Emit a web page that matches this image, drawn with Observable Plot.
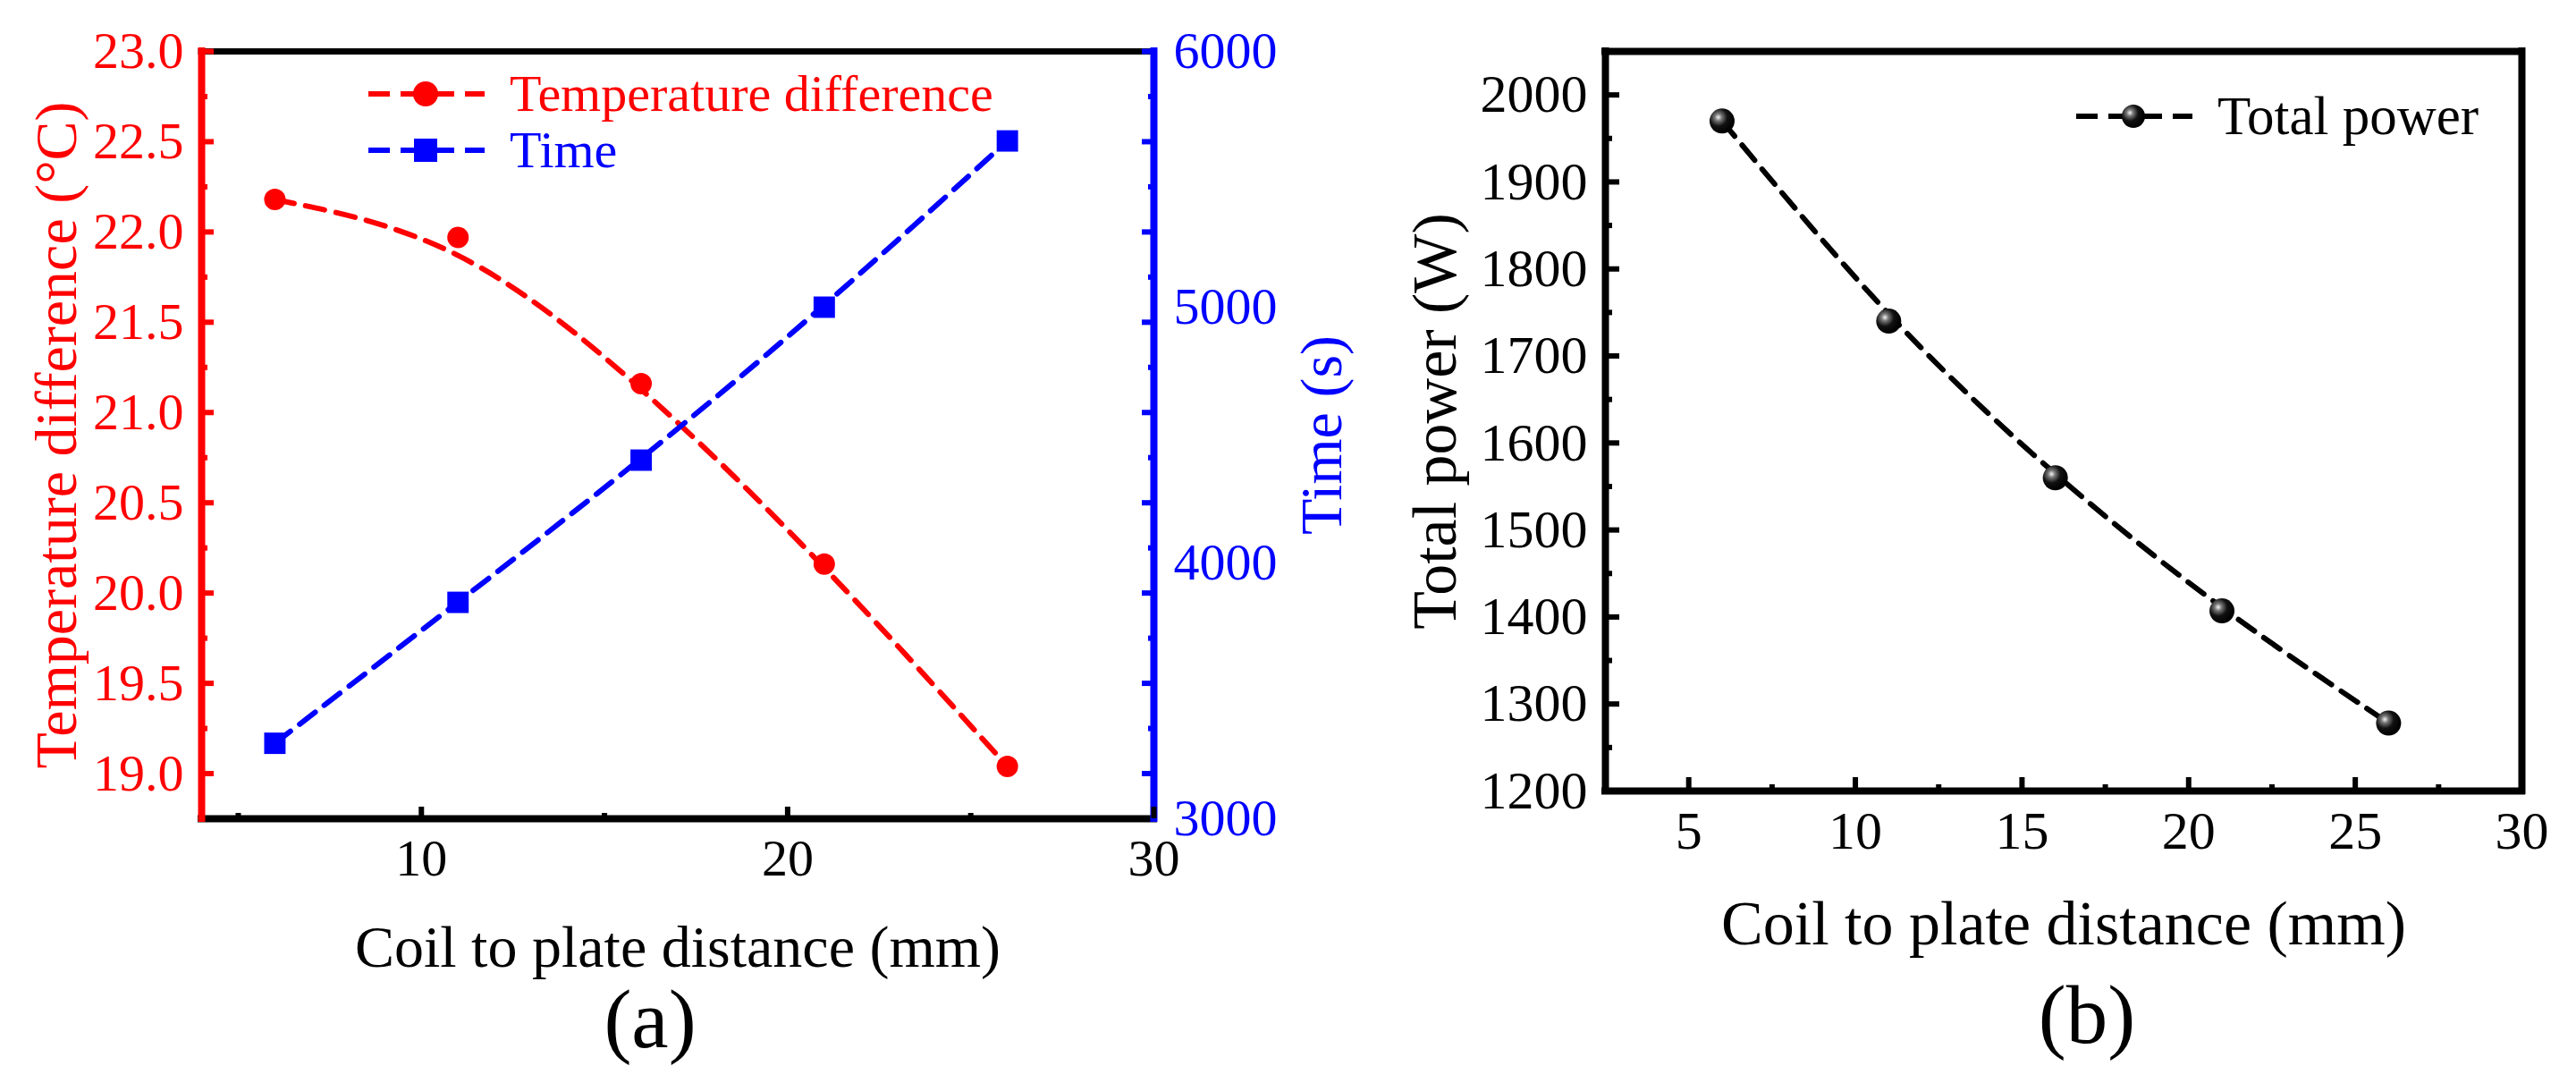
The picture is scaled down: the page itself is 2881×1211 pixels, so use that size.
<!DOCTYPE html>
<html>
<head>
<meta charset="utf-8">
<script src="https://cdn.jsdelivr.net/npm/d3@7"></script>
<script src="https://cdn.jsdelivr.net/npm/@observablehq/plot@0.6"></script>
<style>
  body { margin: 0; background: #fff; }
  #fig { position: relative; width: 2881px; height: 1211px; background: #fff; }
  #fig svg { position: absolute; top: 0; overflow: visible; }
</style>
</head>
<body>
<div id="fig"></div>
<script>
// data
const distance = [6, 11, 16, 21, 26];
const tempDiff = [22.18, 21.97, 21.16, 20.16, 19.04];   // °C
const timeS = [3295, 3846, 4402, 5000, 5650];            // s
const totalPower = [1970, 1740, 1560, 1407, 1278];       // W

// tick labels
const tempTicks = [19.0, 19.5, 20.0, 20.5, 21.0, 21.5, 22.0, 22.5, 23.0];
const tempMinor = [19.25, 19.75, 20.25, 20.75, 21.25, 21.75, 22.25, 22.75];
const timeTicks = [3000, 4000, 5000, 6000];
const distTicksA = [10, 20, 30];
const distMinorA = [5, 15, 25];
const powerTicks = [1200, 1300, 1400, 1500, 1600, 1700, 1800, 1900, 2000];
const powerMinor = [1250, 1350, 1450, 1550, 1650, 1750, 1850, 1950];
const distTicksB = [5, 10, 15, 20, 25, 30];
const distMinorB = [7.5, 12.5, 17.5, 22.5, 27.5];

const RED = "#ff0000", BLUE = "#0000ff";
const font = "'Liberation Serif', 'Times New Roman', serif";

const rowsA = distance.map((d, i) => ({dist: d, temp: tempDiff[i], time: timeS[i]}));
const rowsB = distance.map((d, i) => ({dist: d, power: totalPower[i]}));

// time axis is drawn on the temperature scale
const toTemp = d3.scaleLinear().domain([3000, 6000]).range([18.75, 23]);

// Origin-style B-spline connection
const dash = {strokeWidth: 6, strokeDasharray: "22,13", curve: "basis"};

const chartA = Plot.plot({
  width: 1480, height: 1211,
  marginLeft: 225, marginRight: 190, marginTop: 57, marginBottom: 296,
  style: {fontFamily: font, fontSize: "58px", background: "transparent"},
  x: {domain: [4, 30]},
  y: {domain: [18.75, 23]},
  marks: [
    Plot.ruleY([23], {stroke: "black", strokeWidth: 7, strokeLinecap: "square"}),
    Plot.ruleY([18.75], {stroke: "black", strokeWidth: 8, strokeLinecap: "square"}),
    Plot.ruleX([4], {stroke: RED, strokeWidth: 8, strokeLinecap: "square"}),
    Plot.ruleX([30], {stroke: BLUE, strokeWidth: 8, strokeLinecap: "square"}),
    // left axis (red)
    Plot.axisY(tempTicks, {anchor: "left", color: RED, tickSize: -14, strokeWidth: 6, tickPadding: 34,
      tickFormat: d3.format(".1f"), label: null, fontSize: 58}),
    Plot.axisY(tempMinor, {anchor: "left", color: RED, tickSize: -7, strokeWidth: 6, tickFormat: () => "", label: null}),
    // right axis (blue)
    Plot.axisY(tempTicks, {anchor: "right", color: BLUE, tickSize: -14, strokeWidth: 6, tickFormat: () => "", label: null}),
    Plot.axisY(tempMinor, {anchor: "right", color: BLUE, tickSize: -7, strokeWidth: 6, tickFormat: () => "", label: null}),
    Plot.axisY(timeTicks.map(toTemp), {anchor: "right", color: BLUE, tickSize: 0, tickPadding: 22,
      tickFormat: d => String(Math.round(toTemp.invert(d))), label: null, fontSize: 58}),
    // bottom axis
    Plot.axisX(distTicksA, {anchor: "bottom", color: "black", tickSize: -13, strokeWidth: 6, tickPadding: 35,
      tickFormat: d => String(d), label: null, fontSize: 58}),
    Plot.axisX(distMinorA, {anchor: "bottom", color: "black", tickSize: -6, strokeWidth: 6, tickFormat: () => "", label: null}),
    // series
    Plot.line(rowsA, {x: "dist", y: "temp", stroke: RED, ...dash}),
    Plot.line(rowsA, {x: "dist", y: d => toTemp(d.time), stroke: BLUE, ...dash}),
    Plot.dot(rowsA, {x: "dist", y: "temp", r: 12, fill: RED}),
    Plot.dot(rowsA, {x: "dist", y: d => toTemp(d.time), r: 13.5, symbol: "square", fill: BLUE}),
    // titles
    Plot.text(["Temperature difference (°C)"], {text: d => d, frameAnchor: "left", textAnchor: "middle", rotate: -90, dx: -162,
      fontSize: 66, fill: RED, lineAnchor: "middle"}),
    Plot.text(["Time (s)"], {text: d => d, frameAnchor: "right", textAnchor: "middle", rotate: -90, dx: 188,
      fontSize: 66, fill: BLUE, lineAnchor: "middle"}),
    Plot.text(["Coil to plate distance (mm)"], {text: d => d, frameAnchor: "bottom", textAnchor: "middle", dy: 144,
      fontSize: 66, fill: "black", lineAnchor: "middle"}),
    Plot.text(["(a)"], {text: d => d, frameAnchor: "bottom", textAnchor: "middle", dx: -31, dy: 226,
      fontSize: 93, fill: "black", lineAnchor: "middle"})
  ]
});

const chartB = Plot.plot({
  width: 1401, height: 1211,
  marginLeft: 315, marginRight: 61, marginTop: 57, marginBottom: 327,
  style: {fontFamily: font, fontSize: "60px", background: "transparent"},
  x: {domain: [2.5, 30]},
  y: {domain: [1200, 2050]},
  marks: [
    Plot.ruleY([2050], {stroke: "black", strokeWidth: 8, strokeLinecap: "square"}),
    Plot.ruleY([1200], {stroke: "black", strokeWidth: 8, strokeLinecap: "square"}),
    Plot.ruleX([2.5], {stroke: "black", strokeWidth: 8, strokeLinecap: "square"}),
    Plot.ruleX([30], {stroke: "black", strokeWidth: 8, strokeLinecap: "square"}),
    Plot.axisY(powerTicks, {anchor: "left", color: "black", tickSize: -16, strokeWidth: 6, tickPadding: 36,
      tickFormat: d => String(d), label: null, fontSize: 60}),
    Plot.axisY(powerMinor, {anchor: "left", color: "black", tickSize: -8, strokeWidth: 6, tickFormat: () => "", label: null}),
    Plot.axisX(distTicksB, {anchor: "bottom", color: "black", tickSize: -15, strokeWidth: 6, tickPadding: 37,
      tickFormat: d => String(d), label: null, fontSize: 60}),
    Plot.axisX(distMinorB, {anchor: "bottom", color: "black", tickSize: -7, strokeWidth: 6, tickFormat: () => "", label: null}),
    Plot.line(rowsB, {x: "dist", y: "power", stroke: "black", ...dash}),
    Plot.dot(rowsB, {x: "dist", y: "power", r: 14, fill: "url(#sphere)"}),
    Plot.text(["Total power (W)"], {text: d => d, frameAnchor: "left", textAnchor: "middle", rotate: -90, dx: -190,
      fontSize: 70, fill: "black", lineAnchor: "middle"}),
    Plot.text(["Coil to plate distance (mm)"], {text: d => d, frameAnchor: "bottom", textAnchor: "middle", dy: 149,
      fontSize: 70, fill: "black", lineAnchor: "middle"}),
    Plot.text(["(b)"], {text: d => d, frameAnchor: "bottom", textAnchor: "middle", dx: 26, dy: 252,
      fontSize: 93, fill: "black", lineAnchor: "middle"})
  ]
});

// sphere gradient for the (b) markers
const defs = d3.select(chartB).insert("defs", ":first-child");
const grad = defs.append("radialGradient").attr("id", "sphere")
  .attr("cx", "35%").attr("cy", "35%").attr("r", "65%");
grad.append("stop").attr("offset", "0%").attr("stop-color", "#f4f4f4");
grad.append("stop").attr("offset", "22%").attr("stop-color", "#777");
grad.append("stop").attr("offset", "55%").attr("stop-color", "#111");
grad.append("stop").attr("offset", "100%").attr("stop-color", "#000");

// legends
function legendRow(svg, y, x0, color, label, marker, fs) {
  const g = d3.select(svg).append("g");
  g.append("line").attr("x1", x0).attr("x2", x0 + 130).attr("y1", y).attr("y2", y)
    .attr("stroke", color).attr("stroke-width", 6).attr("stroke-dasharray", "24,12");
  marker(g, x0 + 64, y);
  g.append("text").attr("x", x0 + 158).attr("y", y).attr("dy", "0.32em")
    .attr("text-anchor", "start").attr("fill", color)
    .style("font-family", font).style("font-size", fs + "px").text(label);
}
legendRow(chartA, 105, 412, RED, "Temperature difference",
  (g, x, y) => g.append("circle").attr("cx", x).attr("cy", y).attr("r", 14).attr("fill", RED), 58);
legendRow(chartA, 168, 412, BLUE, "Time",
  (g, x, y) => g.append("rect").attr("x", x - 13).attr("y", y - 13).attr("width", 26).attr("height", 26).attr("fill", BLUE), 58);
legendRow(chartB, 130, 842, "black", "Total power",
  (g, x, y) => g.append("circle").attr("cx", x).attr("cy", y).attr("r", 13).attr("fill", "url(#sphere)"), 61);

const fig = d3.select("#fig");
fig.append(() => chartA).style("left", "0px");
fig.append(() => chartB).style("left", "1480px");
</script>
</body>
</html>
